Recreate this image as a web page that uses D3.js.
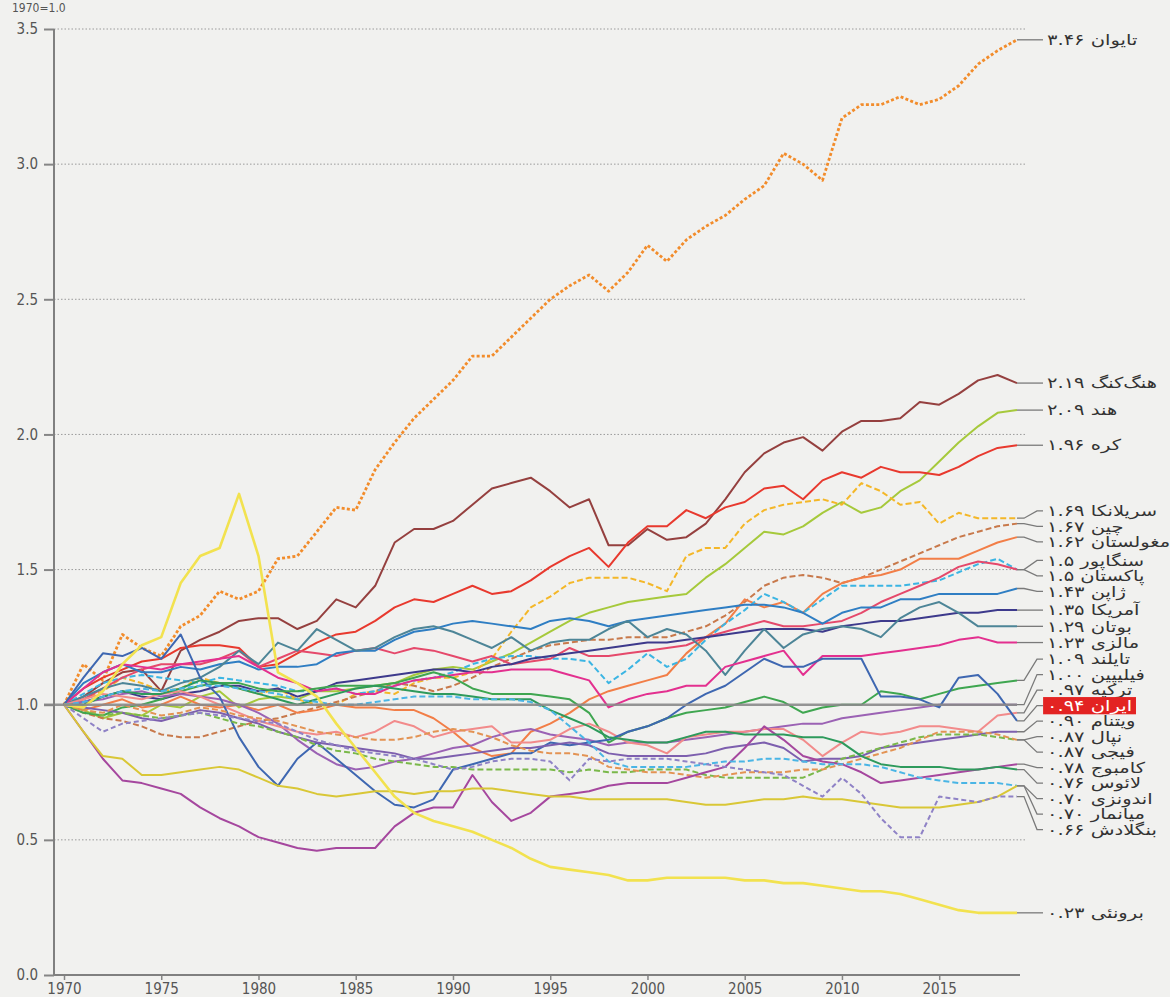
<!DOCTYPE html>
<html>
<head>
<meta charset="utf-8">
<script src="https://cdn.jsdelivr.net/npm/d3@7"></script>
<style>
  body { margin: 0; background: #f1f1ef; }
  #chart-area { width: 1170px; height: 997px; }
  .axis text { font-family: "DejaVu Sans Condensed", "DejaVu Sans", sans-serif; font-size: 15px; fill: #555; }
  .axis line, .axis path { stroke: #858585; }
  .country-label { font-family: "DejaVu Sans", sans-serif; font-size: 15px; fill: #333; }
</style>
</head>
<body>
<div id="chart-area"></div>
<script>

// ---- data (1970 = 1.0) ----
const years = d3.range(1970, 2020);

const taiwan = [1.0, 1.15, 1.09, 1.26, 1.21, 1.18, 1.29, 1.33, 1.42, 1.39,
  1.42, 1.54, 1.55, 1.64, 1.73, 1.72, 1.87, 1.97, 2.06, 2.13,
  2.2, 2.29, 2.29, 2.36, 2.43, 2.5, 2.55, 2.59, 2.53, 2.6,
  2.7, 2.64, 2.72, 2.77, 2.81, 2.87, 2.92, 3.04, 3.0, 2.94,
  3.17, 3.22, 3.22, 3.25, 3.22, 3.24, 3.29, 3.37, 3.42, 3.46];
const hongKong = [1.0, 1.03, 1.08, 1.12, 1.13, 1.05, 1.2, 1.24, 1.27, 1.31,
  1.32, 1.32, 1.28, 1.31, 1.39, 1.36, 1.44, 1.6, 1.65, 1.65,
  1.68, 1.74, 1.8, 1.82, 1.84, 1.79, 1.73, 1.76, 1.59, 1.59,
  1.65, 1.61, 1.62, 1.67, 1.76, 1.86, 1.93, 1.97, 1.99, 1.94,
  2.01, 2.05, 2.05, 2.06, 2.12, 2.11, 2.15, 2.2, 2.22, 2.19];
const india = [1.0, 0.98, 0.95, 0.97, 0.96, 1.0, 0.99, 1.03, 1.05, 0.99,
  1.02, 1.03, 1.02, 1.05, 1.05, 1.06, 1.07, 1.08, 1.11, 1.13,
  1.14, 1.13, 1.16, 1.19, 1.23, 1.27, 1.31, 1.34, 1.36, 1.38,
  1.39, 1.4, 1.41, 1.47, 1.52, 1.58, 1.64, 1.63, 1.66, 1.71,
  1.75, 1.71, 1.73, 1.79, 1.83, 1.9, 1.97, 2.03, 2.08, 2.09];
const korea = [1.0, 1.06, 1.1, 1.13, 1.16, 1.17, 1.21, 1.22, 1.22, 1.21,
  1.14, 1.15, 1.19, 1.23, 1.26, 1.27, 1.31, 1.36, 1.39, 1.38,
  1.41, 1.44, 1.41, 1.42, 1.46, 1.51, 1.55, 1.58, 1.51, 1.6,
  1.66, 1.66, 1.72, 1.69, 1.73, 1.75, 1.8, 1.81, 1.76, 1.83,
  1.86, 1.84, 1.88, 1.86, 1.86, 1.85, 1.88, 1.92, 1.95, 1.96];
const sriLanka = [1.0, 1.02, 1.05, 1.1, 1.08, 1.05, 1.06, 1.1, 1.08, 1.06,
  1.04, 1.06, 1.02, 1.0, 1.0, 1.04, 1.05, 1.04, 1.08, 1.1,
  1.1, 1.12, 1.17, 1.27, 1.36, 1.4, 1.45, 1.47, 1.47, 1.47,
  1.45, 1.42, 1.55, 1.58, 1.58, 1.67, 1.72, 1.74, 1.75, 1.76,
  1.74, 1.82, 1.79, 1.74, 1.75, 1.67, 1.71, 1.69, 1.69, 1.69];
const china = [1.0, 0.97, 0.95, 0.94, 0.92, 0.89, 0.88, 0.88, 0.9, 0.92,
  0.94, 0.95, 0.97, 0.99, 1.01, 1.03, 1.05, 1.08, 1.07, 1.05,
  1.07, 1.1, 1.14, 1.17, 1.2, 1.22, 1.23, 1.24, 1.24, 1.25,
  1.25, 1.25, 1.27, 1.29, 1.33, 1.38, 1.44, 1.47, 1.48, 1.47,
  1.45, 1.47, 1.5, 1.53, 1.56, 1.59, 1.62, 1.64, 1.66, 1.67];
const mongolia = [1.0, 0.98, 1.0, 1.02, 0.99, 1.0, 1.03, 1.0, 0.99, 1.0,
  0.98, 1.0, 0.97, 0.98, 1.0, 0.99, 0.99, 0.98, 0.98, 0.95,
  0.9, 0.84, 0.81, 0.82, 0.9, 0.93, 0.97, 1.02, 1.05, 1.07,
  1.09, 1.11, 1.19, 1.25, 1.3, 1.39, 1.36, 1.38, 1.34, 1.41,
  1.45, 1.47, 1.48, 1.5, 1.54, 1.54, 1.54, 1.57, 1.6, 1.62];
const singapore = [1.0, 1.04, 1.08, 1.1, 1.11, 1.1, 1.09, 1.08, 1.1, 1.09,
  1.08, 1.07, 1.05, 1.05, 1.06, 1.04, 1.05, 1.07, 1.09, 1.1,
  1.12, 1.15, 1.17, 1.18, 1.18, 1.17, 1.17, 1.16, 1.08, 1.13,
  1.19, 1.14, 1.17, 1.24, 1.3, 1.35, 1.41, 1.38, 1.34, 1.39,
  1.44, 1.44, 1.44, 1.44, 1.45, 1.46, 1.49, 1.52, 1.54, 1.5];
const pakistan = [1.0, 1.02, 1.06, 1.1, 1.13, 1.15, 1.15, 1.15, 1.17, 1.2,
  1.14, 1.17, 1.2, 1.19, 1.18, 1.2, 1.21, 1.19, 1.21, 1.2,
  1.18, 1.16, 1.18, 1.15, 1.16, 1.17, 1.21, 1.18, 1.18, 1.19,
  1.2, 1.21, 1.22, 1.25, 1.27, 1.29, 1.31, 1.29, 1.29, 1.3,
  1.31, 1.34, 1.38, 1.41, 1.44, 1.47, 1.51, 1.53, 1.52, 1.5];
const japan = [1.0, 1.08, 1.12, 1.15, 1.12, 1.12, 1.14, 1.13, 1.15, 1.16,
  1.13, 1.14, 1.14, 1.15, 1.19, 1.2, 1.2, 1.24, 1.27, 1.28,
  1.3, 1.31, 1.3, 1.29, 1.28, 1.31, 1.32, 1.31, 1.29, 1.31,
  1.32, 1.33, 1.34, 1.35, 1.36, 1.37, 1.37, 1.36, 1.34, 1.3,
  1.34, 1.36, 1.36, 1.39, 1.39, 1.41, 1.41, 1.41, 1.41, 1.43];
const usa = [1.0, 1.01, 1.03, 1.05, 1.03, 1.02, 1.04, 1.05, 1.07, 1.07,
  1.05, 1.06, 1.03, 1.05, 1.08, 1.09, 1.1, 1.11, 1.12, 1.13,
  1.13, 1.12, 1.14, 1.15, 1.17, 1.18, 1.19, 1.2, 1.21, 1.22,
  1.23, 1.23, 1.24, 1.25, 1.26, 1.27, 1.28, 1.28, 1.28, 1.27,
  1.29, 1.3, 1.31, 1.31, 1.32, 1.33, 1.34, 1.34, 1.35, 1.35];
const bhutan = [1.0, 1.03, 1.06, 1.08, 1.07, 1.05, 1.08, 1.1, 1.14, 1.2,
  1.15, 1.23, 1.2, 1.28, 1.24, 1.2, 1.21, 1.25, 1.28, 1.29,
  1.27, 1.24, 1.21, 1.25, 1.2, 1.23, 1.24, 1.24, 1.28, 1.31,
  1.25, 1.28, 1.26, 1.2, 1.11, 1.2, 1.28, 1.21, 1.26, 1.28,
  1.29, 1.28, 1.25, 1.32, 1.36, 1.38, 1.34, 1.29, 1.29, 1.29];
const malaysia = [1.0, 1.06, 1.12, 1.15, 1.14, 1.13, 1.15, 1.16, 1.17, 1.18,
  1.14, 1.1, 1.08, 1.05, 1.06, 1.04, 1.04, 1.07, 1.09, 1.1,
  1.11, 1.12, 1.12, 1.13, 1.13, 1.13, 1.11, 1.09, 0.99, 1.02,
  1.04, 1.05, 1.07, 1.07, 1.14, 1.16, 1.18, 1.2, 1.11, 1.18,
  1.18, 1.18, 1.19, 1.2, 1.21, 1.22, 1.24, 1.25, 1.23, 1.23];
const thailand = [1.0, 0.97, 0.96, 0.99, 1.0, 1.02, 1.05, 1.07, 1.08, 1.08,
  1.06, 1.05, 1.05, 1.06, 1.07, 1.07, 1.07, 1.08, 1.1, 1.12,
  1.1, 1.06, 1.04, 1.04, 1.04, 1.03, 1.02, 0.97, 0.86, 0.9,
  0.92, 0.95, 0.97, 0.98, 0.99, 1.01, 1.03, 1.01, 0.97, 0.99,
  1.0, 1.0, 1.05, 1.04, 1.02, 1.04, 1.06, 1.07, 1.08, 1.09];
const philippines = [1.0, 1.01, 1.02, 1.04, 1.05, 1.03, 1.04, 1.03, 1.02, 1.0,
  0.97, 0.93, 0.87, 0.82, 0.78, 0.76, 0.77, 0.79, 0.8, 0.82,
  0.84, 0.85, 0.88, 0.9, 0.91, 0.89, 0.88, 0.87, 0.85, 0.86,
  0.86, 0.86, 0.87, 0.88, 0.89, 0.9, 0.91, 0.92, 0.93, 0.93,
  0.95, 0.96, 0.97, 0.98, 0.99, 1.0, 1.0, 1.0, 1.0, 1.0];
const turkey = [1.0, 1.02, 1.04, 1.03, 1.02, 1.04, 1.05, 1.03, 1.0, 0.97,
  0.94, 0.92, 0.9, 0.89, 0.9, 0.88, 0.9, 0.94, 0.92, 0.88,
  0.9, 0.91, 0.92, 0.86, 0.86, 0.87, 0.91, 0.93, 0.9, 0.86,
  0.85, 0.82, 0.88, 0.89, 0.9, 0.9, 0.91, 0.91, 0.87, 0.81,
  0.86, 0.9, 0.89, 0.9, 0.92, 0.92, 0.91, 0.9, 0.96, 0.97];
const iran = [1.0, 1.1, 1.19, 1.18, 1.21, 1.17, 1.26, 1.1, 1.03, 0.88,
  0.77, 0.7, 0.8, 0.86, 0.8, 0.74, 0.68, 0.63, 0.62, 0.65,
  0.76, 0.78, 0.8, 0.82, 0.82, 0.86, 0.85, 0.86, 0.87, 0.9,
  0.92, 0.95, 1.0, 1.04, 1.07, 1.12, 1.17, 1.14, 1.14, 1.17,
  1.17, 1.17, 1.03, 1.03, 1.02, 0.99, 1.1, 1.11, 1.04, 0.94];
const vietnam = [1.0, 0.99, 0.98, 0.97, 0.95, 0.94, 0.96, 0.98, 0.97, 0.95,
  0.93, 0.9, 0.88, 0.86, 0.85, 0.84, 0.83, 0.82, 0.8, 0.8,
  0.81, 0.82, 0.83, 0.84, 0.84, 0.85, 0.86, 0.85, 0.82, 0.81,
  0.81, 0.81, 0.81, 0.82, 0.84, 0.85, 0.86, 0.84, 0.79, 0.8,
  0.8, 0.81, 0.84, 0.85, 0.86, 0.87, 0.88, 0.89, 0.9, 0.9];
const nepal = [1.0, 0.98, 0.96, 0.97, 0.96, 0.95, 0.96, 0.97, 0.95, 0.93,
  0.92, 0.9, 0.88, 0.85, 0.83, 0.82, 0.8, 0.79, 0.78, 0.77,
  0.77, 0.76, 0.76, 0.76, 0.76, 0.76, 0.75, 0.76, 0.75, 0.75,
  0.76, 0.76, 0.76, 0.74, 0.73, 0.73, 0.73, 0.73, 0.73, 0.76,
  0.8, 0.82, 0.84, 0.86, 0.88, 0.89, 0.89, 0.89, 0.88, 0.87];
const fiji = [1.0, 0.98, 0.97, 1.0, 0.98, 0.96, 0.97, 0.99, 0.98, 0.96,
  0.95, 0.94, 0.92, 0.9, 0.89, 0.88, 0.87, 0.87, 0.88, 0.9,
  0.91, 0.9, 0.88, 0.85, 0.83, 0.82, 0.82, 0.81, 0.77, 0.76,
  0.75, 0.75, 0.74, 0.73, 0.74, 0.75, 0.75, 0.75, 0.76, 0.76,
  0.78, 0.8, 0.82, 0.84, 0.87, 0.9, 0.9, 0.9, 0.89, 0.87];
const cambodia = [1.0, 0.9, 0.8, 0.72, 0.71, 0.69, 0.67, 0.62, 0.58, 0.55,
  0.51, 0.49, 0.47, 0.46, 0.47, 0.47, 0.47, 0.55, 0.6, 0.62,
  0.62, 0.74, 0.64, 0.57, 0.6, 0.66, 0.67, 0.68, 0.7, 0.71,
  0.71, 0.71, 0.73, 0.75, 0.77, 0.84, 0.92, 0.87, 0.81, 0.79,
  0.78, 0.75, 0.71, 0.72, 0.73, 0.74, 0.75, 0.76, 0.77, 0.78];
const laos = [1.0, 1.0, 1.03, 1.05, 1.04, 1.04, 1.06, 1.09, 1.08, 1.06,
  1.04, 1.02, 1.0, 1.02, 1.04, 1.06, 1.07, 1.06, 1.05, 1.04,
  1.04, 1.03, 1.02, 1.02, 1.02, 0.98, 0.95, 0.92, 0.88, 0.87,
  0.86, 0.86, 0.88, 0.9, 0.9, 0.89, 0.89, 0.89, 0.88, 0.88,
  0.86, 0.81, 0.78, 0.77, 0.77, 0.77, 0.76, 0.76, 0.77, 0.76];
const indonesia = [1.0, 1.01, 1.03, 1.05, 1.06, 1.05, 1.06, 1.07, 1.07, 1.06,
  1.05, 1.04, 1.02, 1.01, 1.0, 1.0, 1.01, 1.02, 1.03, 1.03,
  1.03, 1.02, 1.02, 1.02, 1.01, 0.98, 0.92, 0.86, 0.79, 0.77,
  0.77, 0.77, 0.77, 0.78, 0.79, 0.79, 0.8, 0.8, 0.79, 0.78,
  0.78, 0.78, 0.77, 0.75, 0.73, 0.72, 0.71, 0.71, 0.71, 0.7];
const myanmar = [1.0, 0.9, 0.81, 0.8, 0.74, 0.74, 0.75, 0.76, 0.77, 0.76,
  0.73, 0.7, 0.69, 0.67, 0.66, 0.67, 0.68, 0.68, 0.67, 0.68,
  0.68, 0.69, 0.69, 0.68, 0.67, 0.66, 0.66, 0.65, 0.65, 0.65,
  0.65, 0.65, 0.64, 0.63, 0.63, 0.64, 0.65, 0.65, 0.66, 0.65,
  0.65, 0.64, 0.63, 0.62, 0.62, 0.62, 0.63, 0.64, 0.66, 0.7];
const bangladesh = [1.0, 0.95, 0.9, 0.93, 0.94, 0.95, 0.96, 0.97, 0.96, 0.95,
  0.94, 0.93, 0.9, 0.87, 0.85, 0.83, 0.82, 0.81, 0.8, 0.78,
  0.76, 0.77, 0.79, 0.8, 0.8, 0.79, 0.72, 0.8, 0.79, 0.8,
  0.8, 0.8, 0.79, 0.78, 0.77, 0.76, 0.75, 0.74, 0.7, 0.66,
  0.73, 0.67, 0.58, 0.51, 0.51, 0.66, 0.65, 0.64, 0.66, 0.66];
const brunei = [1.0, 0.99, 1.05, 1.15, 1.22, 1.25, 1.45, 1.55, 1.58, 1.78,
  1.55, 1.12, 1.08, 1.03, 0.93, 0.84, 0.75, 0.66, 0.6, 0.57,
  0.55, 0.53, 0.5, 0.47, 0.43, 0.4, 0.39, 0.38, 0.37, 0.35,
  0.35, 0.36, 0.36, 0.36, 0.36, 0.35, 0.35, 0.34, 0.34, 0.33,
  0.32, 0.31, 0.31, 0.3, 0.28, 0.26, 0.24, 0.23, 0.23, 0.23];

const countries = ['تایوان', 'هنگ\u200cکنگ', 'هند', 'کره', 'سریلانکا', 'چین', 'مغولستان',
  'سنگاپور', 'پاکستان', 'ژاپن', 'آمریکا', 'بوتان', 'مالزی', 'تایلند', 'فیلیپین',
  'ترکیه', 'ایران', 'ویتنام', 'نپال', 'فیجی', 'کامبوج', 'لائوس', 'اندونزی',
  'میانمار', 'بنگلادش', 'برونئی'];
const endLabels = ['۳.۴۶', '۲.۱۹', '۲.۰۹', '۱.۹۶', '۱.۶۹', '۱.۶۷', '۱.۶۲',
  '۱.۵', '۱.۵', '۱.۴۳', '۱.۳۵', '۱.۲۹', '۱.۲۳', '۱.۰۹', '۱.۰۰',
  '۰.۹۷', '۰.۹۴', '۰.۹۰', '۰.۸۷', '۰.۸۷', '۰.۷۸', '۰.۷۶', '۰.۷۰',
  '۰.۷۰', '۰.۶۶', '۰.۲۳'];
const seriesValues = [taiwan, hongKong, india, korea, sriLanka, china, mongolia,
  singapore, pakistan, japan, usa, bhutan, malaysia, thailand, philippines,
  turkey, iran, vietnam, nepal, fiji, cambodia, laos, indonesia,
  myanmar, bangladesh, brunei];
const yTicks = [0, 0.5, 1.0, 1.5, 2.0, 2.5, 3.0, 3.5];
const xTicks = [1970, 1975, 1980, 1985, 1990, 1995, 2000, 2005, 2010, 2015];
const highlight = 'ایران';

// styles per series (same order as countries)
const lineColors = ['#f28c2b', '#95403f', '#a6c93b', '#e8392e', '#f4b728', '#c8794b', '#f27e47',
  '#3bb5e3', '#e5496b', '#2f7ec3', '#3d3a8c', '#4d8597', '#e3308f', '#3fa650', '#9b62b4',
  '#f28b8b', '#3e67b1', '#7d5fae', '#7ab84a', '#e39353', '#a5479e', '#2e9a5c', '#4ab5e5',
  '#d9c736', '#8f82c6', '#f2e24f'];
const lineDash = ['3,2.2', null, null, null, '6,3', '6,3', null,
  '6,3', null, null, null, null, null, null, null,
  null, null, null, '6,3', '6,3', null, null, '6,3',
  null, '5,3', null];


class TrendChart {

    constructor(_parentElement) {
        this.parentElement = _parentElement;
        this.data = countries.map((name, i) => ({
            name: name,
            label: name + ' ' + endLabels[i],
            values: seriesValues[i],
            color: lineColors[i],
            dash: lineDash[i]
        }));
        this.initVis();
    }

    initVis() {
        let vis = this;

        vis.width = 1170;
        vis.height = 997;
        vis.axisX = 54;

        vis.svg = d3.select("#" + vis.parentElement).append("svg")
            .attr("width", vis.width)
            .attr("height", vis.height);

        vis.svg.append("rect")
            .attr("width", vis.width)
            .attr("height", vis.height)
            .attr("fill", "#f1f1ef");

        vis.x = d3.scaleLinear()
            .domain([1970, 2019])
            .range([64, 1017]);

        vis.y = d3.scaleLinear()
            .domain([0, 3.5])
            .range([975, 29]);

        vis.line = d3.line()
            .x((d, i) => vis.x(years[i]))
            .y(d => vis.y(d));

        vis.wrangleData();
    }

    wrangleData() {
        let vis = this;

        // label positions: start at the line end, push overlapping ones apart
        let gap = 15.5;
        let items = vis.data.map(d => ({ d: d, target: vis.y(d.values[d.values.length - 1]) }))
            .sort((a, b) => a.target - b.target);

        let groups = items.map(it => ({ top: it.target, items: [it] }));
        let merged = true;
        while (merged) {
            merged = false;
            for (let i = 0; i < groups.length - 1; i++) {
                let a = groups[i], b = groups[i + 1];
                if (a.top + a.items.length * gap > b.top) {
                    let all = a.items.concat(b.items);
                    let mean = d3.mean(all, it => it.target);
                    groups.splice(i, 2, { top: mean - (all.length - 1) * gap / 2, items: all });
                    merged = true;
                    break;
                }
            }
        }
        groups.forEach(g => g.items.forEach((it, j) => { it.d.labelY = g.top + j * gap; }));

        vis.updateVis();
    }

    updateVis() {
        let vis = this;

        // dotted grid
        vis.svg.append("g")
            .selectAll("line")
            .data(yTicks.filter(t => t !== 0 && t !== 1))
            .enter().append("line")
            .attr("x1", vis.axisX)
            .attr("x2", 1027)
            .attr("y1", d => vis.y(d))
            .attr("y2", d => vis.y(d))
            .attr("stroke", "#9a9a9a")
            .attr("stroke-width", 1)
            .attr("stroke-dasharray", "1.5,2");

        // series
        vis.svg.append("g")
            .selectAll("path")
            .data(vis.data)
            .enter().append("path")
            .attr("d", d => vis.line(d.values))
            .attr("fill", "none")
            .attr("stroke", d => d.color)
            .attr("stroke-width", d => d.name === 'برونئی' ? 2.6 : (d.name === 'تایوان' ? 2.8 : 2))
            .attr("stroke-dasharray", d => d.dash)
            .attr("stroke-linejoin", "round");

        // 1970 baseline
        vis.svg.append("line")
            .attr("x1", vis.axisX - 10)
            .attr("x2", vis.x(2019))
            .attr("y1", vis.y(1))
            .attr("y2", vis.y(1))
            .attr("stroke", "#8a8a8a")
            .attr("stroke-opacity", 0.9)
            .attr("stroke-width", 2.5);

        // axes
        let yAxis = d3.axisLeft(vis.y)
            .tickValues(yTicks)
            .tickFormat(d3.format(".1f"))
            .tickSize(10)
            .tickPadding(6);

        vis.svg.append("g")
            .attr("class", "y-axis axis")
            .attr("transform", "translate(" + vis.axisX + ",0)")
            .call(yAxis)
            .call(g => g.select(".domain").remove())
            .call(g => g.selectAll("line").attr("stroke-width", 2));

        vis.svg.append("line")
            .attr("x1", vis.axisX).attr("x2", vis.axisX)
            .attr("y1", vis.y(3.5)).attr("y2", vis.y(0))
            .attr("stroke", "#808080")
            .attr("stroke-width", 2);

        let xAxis = d3.axisBottom(vis.x)
            .tickValues(xTicks)
            .tickFormat(d3.format("d"))
            .tickSize(5)
            .tickPadding(3);

        vis.svg.append("g")
            .attr("class", "x-axis axis")
            .attr("transform", "translate(0," + vis.y(0) + ")")
            .call(xAxis)
            .call(g => g.select(".domain").remove())
            .call(g => g.selectAll("line").attr("stroke-width", 1.5));

        vis.svg.append("line")
            .attr("x1", vis.axisX).attr("x2", 1020)
            .attr("y1", vis.y(0)).attr("y2", vis.y(0))
            .attr("stroke", "#808080")
            .attr("stroke-width", 2);

        vis.svg.append("text")
            .attr("x", 12)
            .attr("y", 12)
            .style("font-family", "DejaVu Sans Condensed, DejaVu Sans, sans-serif")
            .style("font-size", "12px")
            .style("fill", "#555")
            .text("1970=1.0");

        // leader lines + labels
        let xEnd = vis.x(2019);
        let labels = vis.svg.append("g");

        labels.selectAll("path")
            .data(vis.data)
            .enter().append("path")
            .attr("d", d => {
                let y0 = vis.y(d.values[d.values.length - 1]);
                return "M" + xEnd + "," + y0 + "L" + (xEnd + 7) + "," + y0 +
                    "L" + (xEnd + 20) + "," + d.labelY + "L" + (xEnd + 26) + "," + d.labelY;
            })
            .attr("fill", "none")
            .attr("stroke", "#7a7a7a")
            .attr("stroke-width", 1.3);

        // the print uses a wide Persian face, so stretch the labels sideways a little
        let tags = labels.selectAll("g.tag")
            .data(vis.data)
            .enter().append("g")
            .attr("class", "tag")
            .attr("transform", d => "translate(" + (xEnd + 30) + "," + d.labelY + ") scale(1.3,1)");

        tags.append("text")
            .attr("class", "country-label")
            .attr("dy", "0.35em")
            .style("fill", d => d.name === highlight ? "#fff" : null)
            .text(d => d.label);

        tags.filter(d => d.name === highlight)
            .each(function () {
                let g = d3.select(this);
                let bb = g.select("text").node().getBBox();
                g.insert("rect", "text")
                    .attr("x", bb.x - 3)
                    .attr("y", bb.y)
                    .attr("width", bb.width + 6)
                    .attr("height", bb.height)
                    .attr("fill", "#e32322");
            });
    }
}

let chart = new TrendChart("chart-area");

</script>
</body>
</html>
